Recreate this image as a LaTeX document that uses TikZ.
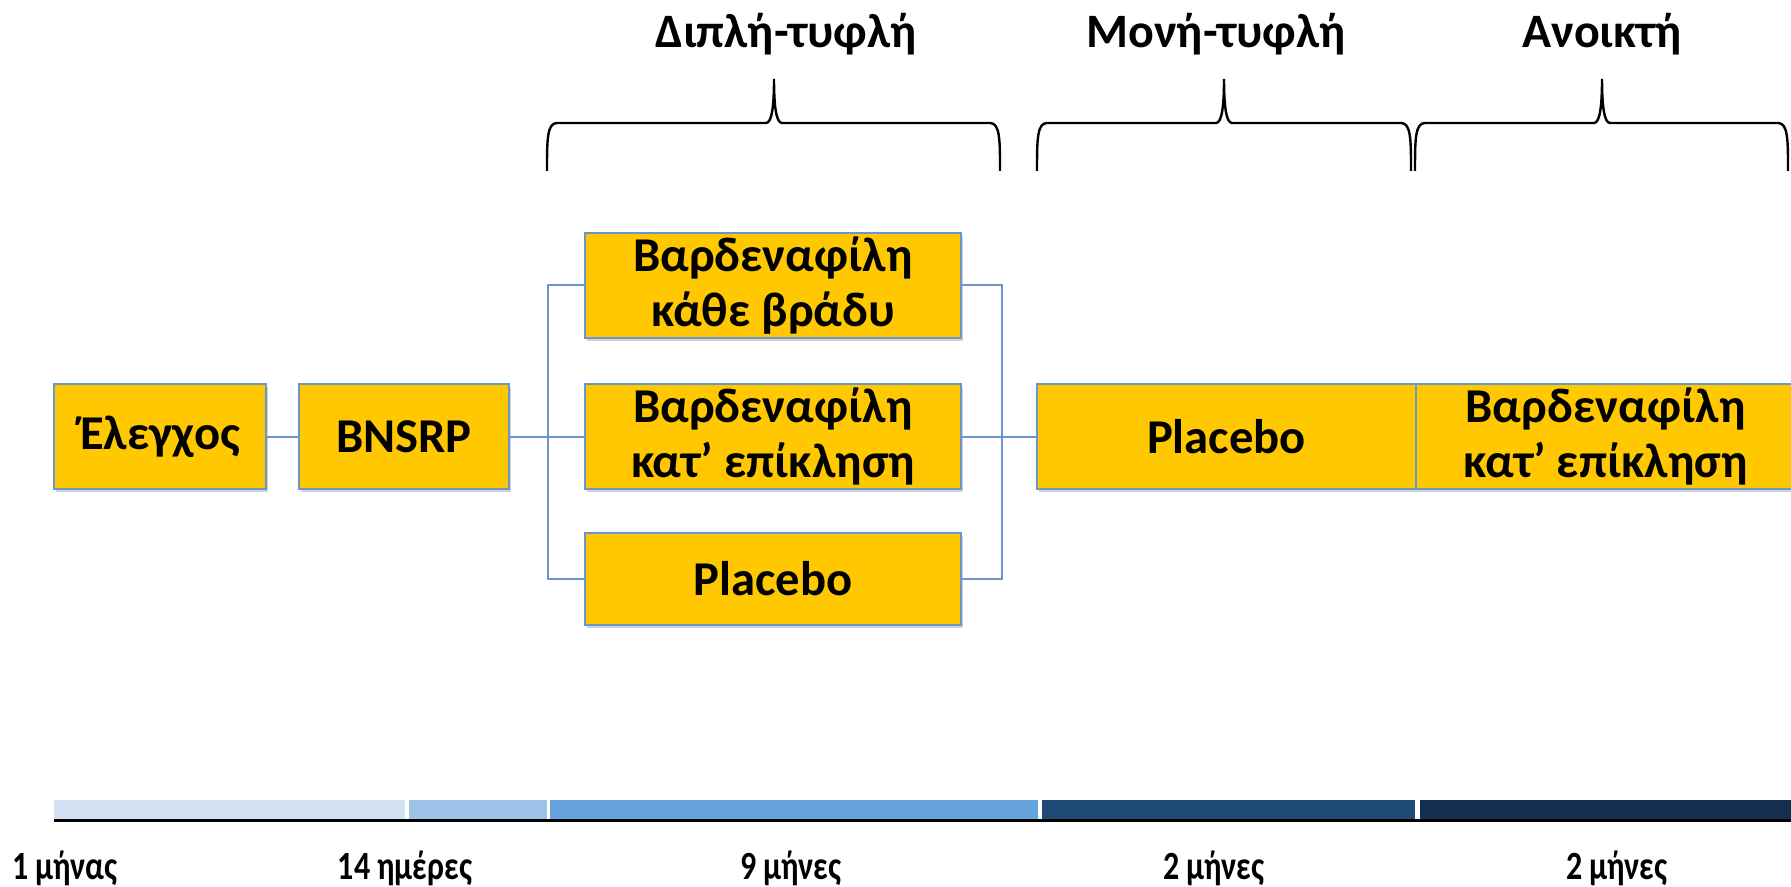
\documentclass[tikz,border=0pt]{standalone}
\usepackage{fontspec}
\setmainfont{Carlito}
\newfontfamily\condfont[FakeStretch=0.8]{Carlito}
\usetikzlibrary{shadows}
\definecolor{boxyellow}{HTML}{FFC800}
\definecolor{boxline}{HTML}{6A96CC}
\definecolor{segA}{HTML}{D2E2F3}
\definecolor{segB}{HTML}{9DC3E8}
\definecolor{segC}{HTML}{66A2DC}
\definecolor{segD}{HTML}{1F4A75}
\definecolor{segE}{HTML}{15304F}
\newcommand\mybrace[3]{%
  \draw[bracestyle] (#1,171) .. controls (#1,140) and (#1,123) .. (#1+10,123) -- (#2-8,123)
    .. controls (#2-2,123) and (#2,105) .. (#2,79)
    .. controls (#2,105) and (#2+2,123) .. (#2+8,123) -- (#3-10,123)
    .. controls (#3,123) and (#3,140) .. (#3,171);}
\begin{document}
\begin{tikzpicture}[x=0.5pt,y=-0.5pt,
  box/.style={draw=boxline, line width=1pt, fill=boxyellow,
    drop shadow={opacity=0.35, shadow xshift=1pt, shadow yshift=-1.5pt},
    inner sep=0pt, align=center, font=\bfseries\fontsize{24.3}{27.5}\selectfont},
  conn/.style={draw=boxline, line width=1pt},
  bracestyle/.style={draw=black, line width=1.2pt},
  phase/.style={font=\bfseries\fontsize{24}{28}\selectfont},
  dur/.style={font=\condfont\bfseries\fontsize{20}{24}\selectfont},
  seg/.style={draw=none}]
\useasboundingbox (0,0) rectangle (1791,887);

% boxes
\node[box, minimum width=106pt, minimum height=52.5pt] (el) at (160,436.5) {Έλεγχος};
\node[box, minimum width=105pt, minimum height=52.5pt] (bn) at (404,436.5) {BNSRP};
\node[box, minimum width=188pt, minimum height=52.5pt] (b1) at (773,285.5) {Βαρδεναφίλη\\κάθε βράδυ};
\node[box, minimum width=188pt, minimum height=52.5pt] (b2) at (773,436.5) {Βαρδεναφίλη\\κατ’ επίκληση};
\node[box, minimum width=188pt, minimum height=46pt] (b3) at (773,579) {Placebo};
\node[box, minimum width=189.5pt, minimum height=52.5pt] (p2) at (1226.5,436.5) {Placebo};
\node[box, minimum width=189.5pt, minimum height=52.5pt] (v2) at (1605.5,436.5) {Βαρδεναφίλη\\κατ’ επίκληση};

% connectors
\draw[conn] (el.east) -- (bn.west);
\draw[conn] (bn.east) -- (b2.west);
\draw[conn] (b1.west) -- ++(-36,0) |- (b3.west);
\draw[conn] (b1.east) -- ++(40,0) |- (b3.east);
\draw[conn] (b2.east) -- (p2.west);

% braces
\mybrace{547}{774}{1000}
\mybrace{1037}{1224}{1411}
\mybrace{1415}{1602}{1788}

% phase labels
\node[phase] (l1) at (786,34) {Διπλή-τυφλή};
\node[phase] (l2) at (1216,34) {Μονή-τυφλή};
\node[phase] (l3) at (1602,34) {Ανοικτή};

% timeline
\fill[segA] (54,800) rectangle (405,819);
\fill[segB] (409,800) rectangle (547,819);
\fill[segC] (550,800) rectangle (1038,819);
\fill[segD] (1042,800) rectangle (1415,819);
\fill[segE] (1420,800) rectangle (1791,819);
\draw[black, line width=1.7pt] (54,820.5) -- (1791,820.5);

% durations
\node[dur] (d1) at (65,868) {1 μήνας};
\node[dur] (d2) at (405,868) {14 ημέρες};
\node[dur] (d3) at (791,868) {9 μήνες};
\node[dur] (d4) at (1214,868) {2 μήνες};
\node[dur] (d5) at (1617,868) {2 μήνες};
\end{tikzpicture}
\end{document}
